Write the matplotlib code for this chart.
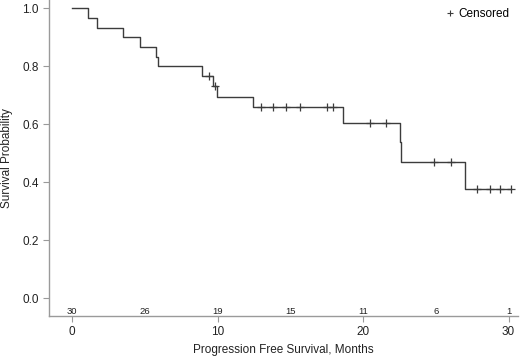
import matplotlib
matplotlib.use("Agg")
import matplotlib.pyplot as plt
from matplotlib.lines import Line2D

plt.rcParams['font.family'] = ['Liberation Sans', 'DejaVu Sans']

# step curve (time in months, survival probability)
step_t = [0, 1.08, 1.7, 3.48, 4.67, 5.77, 5.89, 8.96, 9.69, 9.94, 12.46,
          18.6, 22.54, 22.6, 27.03, 30.15]
step_s = [1.0, 0.967, 0.933, 0.9, 0.867, 0.833, 0.8, 0.767, 0.733, 0.695,
          0.659, 0.604, 0.537, 0.47, 0.376, 0.376]

# censored observations
censor_t = [9.44, 9.85, 12.99, 13.8, 14.7, 15.67, 17.5, 17.96, 20.5, 21.6,
            24.88, 26.05, 27.81, 28.73, 29.4, 30.15]
censor_s = [0.767, 0.733, 0.659, 0.659, 0.659, 0.659, 0.659, 0.659, 0.604,
            0.604, 0.47, 0.47, 0.376, 0.376, 0.376, 0.376]

# number at risk
risk_t = [0, 5, 10, 15, 20, 25, 30]
risk_n = [30, 26, 19, 15, 11, 6, 1]

line_col = '#3c3c3c'
axis_col = '#9a9a9a'
text_col = '#222222'

fig = plt.figure(figsize=(5.2, 3.56), dpi=100)
ax = fig.add_axes([49 / 520, 40 / 356, 469 / 520, 316 / 356])

ax.step(step_t, step_s, where='post', color=line_col, lw=1.0)
ax.plot(censor_t, censor_s, ls='none', marker='+', ms=5.5, mew=0.9, color=line_col)

for t, n in zip(risk_t, risk_n):
    ax.text(t, -0.045, str(n), ha='center', va='center', fontsize=6.8, color=text_col)

ax.set_xlim(-1.58, 30.65)
ax.set_ylim(-0.062, 1.028)
ax.set_xticks([0, 10, 20, 30])
ax.set_yticks([0.0, 0.2, 0.4, 0.6, 0.8, 1.0])
ax.set_yticklabels(['0.0', '0.2', '0.4', '0.6', '0.8', '1.0'])

for s in ['top', 'right']:
    ax.spines[s].set_visible(False)
for s in ['left', 'bottom']:
    ax.spines[s].set_color(axis_col)
    ax.spines[s].set_linewidth(1.0)
ax.tick_params(colors=axis_col, labelcolor=text_col, labelsize=8.5, length=4, width=0.8)

ax.set_xlabel('Progression Free Survival, Months', fontsize=8.5, color=text_col)
ax.set_ylabel('Survival Probability', fontsize=8.5, color=text_col)
ax.xaxis.set_label_coords(0.5, -0.088)
ax.yaxis.set_label_coords(-0.077, 0.5)

h = Line2D([], [], ls='none', marker='+', ms=5, mew=0.8, color=line_col)
ax.legend([h], ['Censored'], loc='upper right', frameon=False, fontsize=8.5,
          handletextpad=0.3, handlelength=0.8, borderaxespad=0.3,
          bbox_to_anchor=(1.0, 1.0))

fig.savefig('out.png', dpi=100)
